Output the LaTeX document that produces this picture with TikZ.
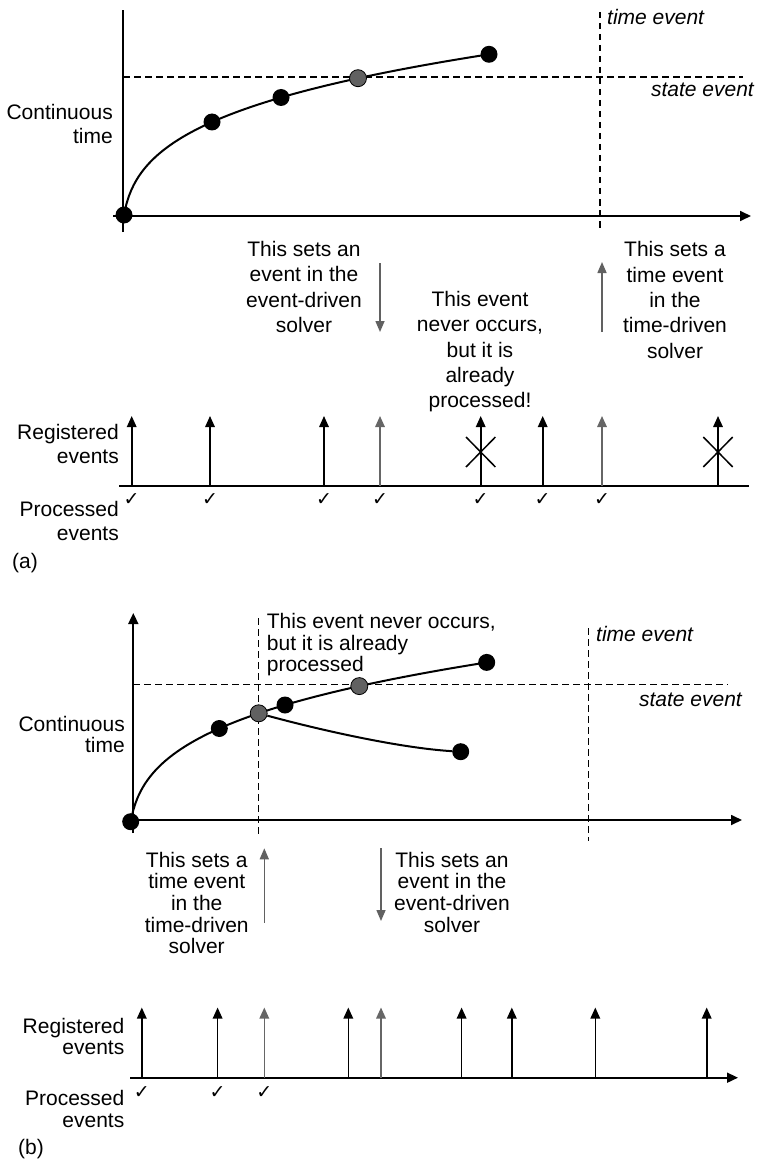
\documentclass[tikz,border=0pt]{standalone}
\usepackage{fontspec}
\setmainfont{Liberation Sans}
\newfontfamily\tickfont{DejaVu Sans}
\usetikzlibrary{arrows.meta}

\begin{document}
\begin{tikzpicture}[
  x=1pt, y=-1pt,
  axis/.style={line width=1.7pt},
  axarrow/.style={axis, -{Triangle[length=11pt, width=10pt]}},
  guide/.style={line width=1.1pt, dash pattern=on 6.5pt off 4.5pt},
  curve/.style={line width=2pt},
  dot/.style={circle, fill=black, inner sep=0pt, minimum size=17pt},
  gdot/.style={dot, fill=black!62, draw=black, line width=0.8pt},
  evt/.style={line width=1.6pt, -{Triangle[length=11pt, width=9.5pt]}},
  gevt/.style={evt, draw=black!60, fill=black!60},
  hint/.style={line width=1.5pt, draw=black!62, -{Triangle[length=11pt, width=9pt]}},
  lbl/.style={inner sep=0pt, align=right, font={\fontsize{21}{24}\selectfont}},
  lblb/.style={lbl, font={\fontsize{21}{21.5}\selectfont}},
  note/.style={inner sep=0pt, align=center, font={\fontsize{21}{25.3}\selectfont}},
  noteb/.style={note, font={\fontsize{21}{21.7}\selectfont}},
  tag/.style={inner sep=0pt, font={\fontsize{21}{24}\selectfont\itshape}},
  tick/.style={inner sep=0pt, font={\tickfont\fontsize{19}{19}\selectfont}},
  cross/.style={line width=1.5pt},
]
\useasboundingbox (0,0) rectangle (756,1161);

% ---------- (a) ----------
\coordinate (yA0) at (123,232);
\coordinate (yA1) at (123,10);
\coordinate (xA0) at (113,216);
\coordinate (xA1) at (751,216);
\draw[axis] (yA0) -- (yA1);
\draw[axarrow] (xA0) -- (xA1);

% state event / time event thresholds
\coordinate (sA0) at (123,77);
\coordinate (sA1) at (743,77);
\coordinate (tA0) at (600,12);
\coordinate (tA1) at (600,232);
\draw[guide] (sA0) -- (sA1);
\draw[guide] (tA0) -- (tA1);

\draw[curve] plot[domain=0:365, samples=150] ({124+\x},{215-52.45*((\x+3)^0.25-1.31607)});
\node[dot] (a0) at (124,215) {};
\node[dot] (a1) at (212,122) {};
\node[dot] (a2) at (281,97.5) {};
\node[gdot] (aS) at (358,78.2) {};
\node[dot] (a3) at (489,54.3) {};

\node[lbl, anchor=north east] (ctA) at (113,104.5) {Continuous\\time};
\node[tag, anchor=base west] (teA) at (607,25) {time event};
\node[tag, anchor=base east] (seA) at (754,97) {state event};

\node[note, anchor=north] (edA) at (304,241) {This sets an\\event in the\\event-driven\\solver};
\node[note, anchor=north] (neA) at (480,291) {This event\\never occurs,\\but it is\\already\\processed!};
\node[note, anchor=north] (tdA) at (675,241.5) {This sets a\\time event\\in the\\time-driven\\solver};

\coordinate (hA0) at (380,263);
\coordinate (hA1) at (380,332);
\coordinate (hA2) at (602,332);
\coordinate (hA3) at (602,262);
\draw[hint] (hA0) -- (hA1);
\draw[hint] (hA2) -- (hA3);

% event list (a)
\coordinate (eA0) at (119,486);
\coordinate (eA1) at (749,486);
\draw[axis] (eA0) -- (eA1);
\foreach \x [count=\i] in {131.7,210,324,480.7,542.7,718}{
  \coordinate (rA\i) at (\x,486);
  \coordinate (qA\i) at (\x,416);
  \draw[evt] (rA\i) -- (qA\i);
}
\foreach \x [count=\i] in {380,602}{
  \coordinate (rgA\i) at (\x,486);
  \coordinate (qgA\i) at (\x,416);
  \draw[gevt] (rgA\i) -- (qgA\i);
}
\foreach \x in {480.7,718}{
  \draw[cross] (\x-14.7,437) -- (\x+14.7,467);
  \draw[cross] (\x-14.7,467) -- (\x+14.7,437);
}
\foreach \x [count=\i] in {131.7,210,324,380,480.7,542.7,602}
  \node[tick] (cA\i) at (\x,500) {✓};

\node[lbl, anchor=north east] (reA) at (119,424) {Registered\\events};
\node[lbl, anchor=north east] (prA) at (119,501) {Processed\\events};
\node[lbl, anchor=base west] (capA) at (12,568) {(a)};

% ---------- (b) ----------
\coordinate (yB0) at (133.3,833);
\coordinate (yB1) at (133.3,613);
\coordinate (xB0) at (123,820);
\coordinate (xB1) at (742,820);
\draw[axarrow] (yB0) -- (yB1);
\draw[axarrow] (xB0) -- (xB1);

\coordinate (sB0) at (133,684.3);
\coordinate (sB1) at (728,684.3);
\coordinate (tB0) at (258.7,618);
\coordinate (tB1) at (258.7,835);
\coordinate (tB2) at (588.3,628);
\coordinate (tB3) at (588.3,841);
\draw[guide] (sB0) -- (sB1);
\draw[guide] (tB0) -- (tB1);
\draw[guide] (tB2) -- (tB3);

\draw[curve] plot[domain=0:356, samples=150] ({130.7+\x},{821.7-52.45*((\x+3)^0.25-1.31607)});
\node[dot] (b0) at (130.7,821.7) {};
\node[dot] (b1) at (219.3,728.5) {};
\node[dot] (b2) at (285,705) {};
\node[gdot] (bS) at (359.3,686.1) {};
\node[dot] (b3) at (486.7,662.4) {};
\node[dot] (b4) at (460.7,751.7) {};
\node[gdot] (bT) at (258.7,713.3) {};
\draw[curve] (bT) .. controls (320,730) and (400,748) .. (b4);

\node[lblb, anchor=north east] (ctB) at (125,715.7) {Continuous\\time};
\node[tag, anchor=base west] (teB) at (596,641.7) {time event};
\node[tag, anchor=base east] (seB) at (742,706) {state event};
\node[noteb, align=left, anchor=north west] (neB) at (266.7,613) {This event never occurs,\\but it is already\\processed};

\node[noteb, anchor=north] (tdB) at (196.7,851.7) {This sets a\\time event\\in the\\time-driven\\solver};
\node[noteb, anchor=north] (edB) at (452,851.7) {This sets an\\event in the\\event-driven\\solver};

\coordinate (hB0) at (264.3,922.7);
\coordinate (hB1) at (264.3,848.3);
\coordinate (hB2) at (381,848.3);
\coordinate (hB3) at (381,921);
\draw[hint] (hB0) -- (hB1);
\draw[hint] (hB2) -- (hB3);

% event list (b)
\coordinate (eB0) at (130,1077.7);
\coordinate (eB1) at (738,1077.7);
\draw[axarrow] (eB0) -- (eB1);
\foreach \x [count=\i] in {141.8,217.6,348.3,461.6,511.8,595.3,706.7}{
  \coordinate (rB\i) at (\x,1077.7);
  \coordinate (qB\i) at (\x,1007.5);
  \draw[evt] (rB\i) -- (qB\i);
}
\foreach \x [count=\i] in {264.3,381}{
  \coordinate (rgB\i) at (\x,1077.7);
  \coordinate (qgB\i) at (\x,1007.5);
  \draw[gevt] (rgB\i) -- (qgB\i);
}
\foreach \x [count=\i] in {141.8,217.6,264.3}
  \node[tick] (cB\i) at (\x,1092.7) {✓};

\node[lblb, anchor=north east] (reB) at (124.5,1018) {Registered\\events};
\node[lblb, anchor=north east] (prB) at (124.5,1090.5) {Processed\\events};
\node[lbl, anchor=base west] (capB) at (18,1154) {(b)};

\end{tikzpicture}
\end{document}
